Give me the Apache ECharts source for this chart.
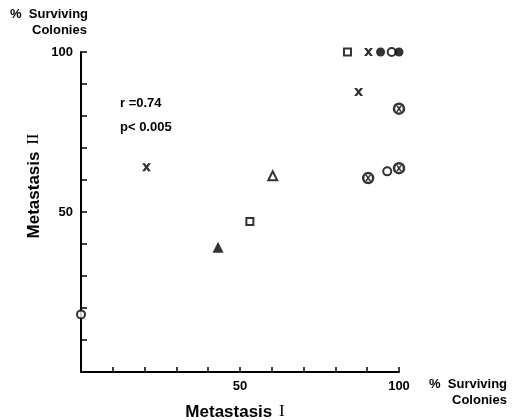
<!DOCTYPE html>
<html>
<head>
<meta charset="utf-8">
<script src="https://cdn.jsdelivr.net/npm/echarts@6/dist/echarts.min.js"></script>
<style>
  html, body { margin: 0; padding: 0; background: #fff; }
  #chart { width: 517px; height: 420px; }
</style>
</head>
<body>
<div id="chart"></div>
<script>
// % surviving colonies: [Metastasis I, Metastasis II]
var openCircle   = [[0, 18], [97.7, 100], [96.3, 62.7]];
var filledCircle = [[94.2, 100], [100, 100]];
var openSquare   = [[53.1, 47], [83.8, 100]];
var crossMark    = [[20.6, 64], [90.4, 100], [87.3, 87.5]];
var openTri      = [[60.3, 61.3]];
var filledTri    = [[43.1, 39]];
var circledCross = [[100, 82.3], [90.3, 60.6], [100, 63.7]];

var xShowLabels = [50, 100];
var yShowLabels = [50, 100];

var crossPath = 'path://M0,0L3.2,0L5,2.6L6.8,0L10,0L6.6,4.5L10,9L6.8,9L5,6.4L3.2,9L0,9L3.4,4.5Z';
var fontB = 'Liberation Sans, Arial, sans-serif';

var chart = echarts.init(document.getElementById('chart'));

var option = {
    backgroundColor: '#fff',
    animation: false,
    grid: { left: 81, top: 52, right: 118, bottom: 48 },
    xAxis: {
        type: 'value', min: 0, max: 100, interval: 10,
        axisLine: { lineStyle: { color: '#000', width: 2 } },
        axisTick: { inside: true, length: 5, lineStyle: { color: '#000', width: 1.5 } },
        splitLine: { show: false },
        axisLabel: {
            color: '#000', fontFamily: fontB, fontWeight: 'bold', fontSize: 13, margin: 8,
            formatter: function (v) { return xShowLabels.indexOf(v) >= 0 ? String(v) : ''; }
        }
    },
    yAxis: {
        type: 'value', min: 0, max: 100, interval: 10,
        axisLine: { lineStyle: { color: '#000', width: 2 } },
        axisTick: { inside: true, length: 6, lineStyle: { color: '#000', width: 1.5 } },
        splitLine: { show: false },
        axisLabel: {
            color: '#000', fontFamily: fontB, fontWeight: 'bold', fontSize: 13, margin: 8,
            formatter: function (v) { return yShowLabels.indexOf(v) >= 0 ? String(v) : ''; }
        }
    },
    graphic: [
        { type: 'text', left: 10, top: 8, style: { text: '%  Surviving', font: 'bold 13px ' + fontB, fill: '#000' } },
        { type: 'text', left: 32, top: 24, style: { text: 'Colonies', font: 'bold 13px ' + fontB, fill: '#000' } },
        { type: 'text', left: 429, top: 378, style: { text: '%  Surviving', font: 'bold 13px ' + fontB, fill: '#000' } },
        { type: 'text', left: 452, top: 394, style: { text: 'Colonies', font: 'bold 13px ' + fontB, fill: '#000' } },
        { type: 'text', left: 120, top: 97, style: { text: 'r =0.74', font: 'bold 13px ' + fontB, fill: '#000' } },
        { type: 'text', left: 120, top: 121, style: { text: 'p< 0.005', font: 'bold 13px ' + fontB, fill: '#000' } },
        {
            type: 'text', x: 235, y: 412,
            style: {
                text: '{a|Metastasis}  {b|I}', align: 'center', verticalAlign: 'middle',
                rich: {
                    a: { font: 'bold 17px ' + fontB, fill: '#000' },
                    b: { font: '17px Liberation Serif, serif', fill: '#000' }
                }
            }
        },
        {
            type: 'text', x: 34, y: 186, rotation: Math.PI / 2,
            style: {
                text: '{a|Metastasis}  {b|II}', align: 'center', verticalAlign: 'middle',
                rich: {
                    a: { font: 'bold 17px ' + fontB, fill: '#000' },
                    b: { font: '17px Liberation Serif, serif', fill: '#000' }
                }
            }
        }
    ],
    series: [
        { type: 'scatter', data: openCircle, symbol: 'circle', symbolSize: 8,
          itemStyle: { color: '#fff', borderColor: '#000', borderWidth: 2 } },
        { type: 'scatter', data: filledCircle, symbol: 'circle', symbolSize: 9,
          itemStyle: { color: '#000' } },
        { type: 'scatter', data: openSquare, symbol: 'rect', symbolSize: 7,
          itemStyle: { color: '#fff', borderColor: '#000', borderWidth: 2 } },
        { type: 'scatter', data: crossMark, symbol: crossPath, symbolSize: [9, 8],
          itemStyle: { color: '#000' } },
        { type: 'scatter', data: openTri, symbol: 'triangle', symbolSize: 9,
          itemStyle: { color: '#fff', borderColor: '#000', borderWidth: 2 } },
        { type: 'scatter', data: filledTri, symbol: 'triangle', symbolSize: 11,
          itemStyle: { color: '#000' } },
        { type: 'scatter', data: circledCross, symbol: 'circle', symbolSize: 10,
          itemStyle: { color: '#fff', borderColor: '#000', borderWidth: 2.5 } },
        { type: 'scatter', data: circledCross, symbol: crossPath, symbolSize: [6, 6],
          itemStyle: { color: '#000' } }
    ]
};

chart.setOption(option);
</script>
</body>
</html>
